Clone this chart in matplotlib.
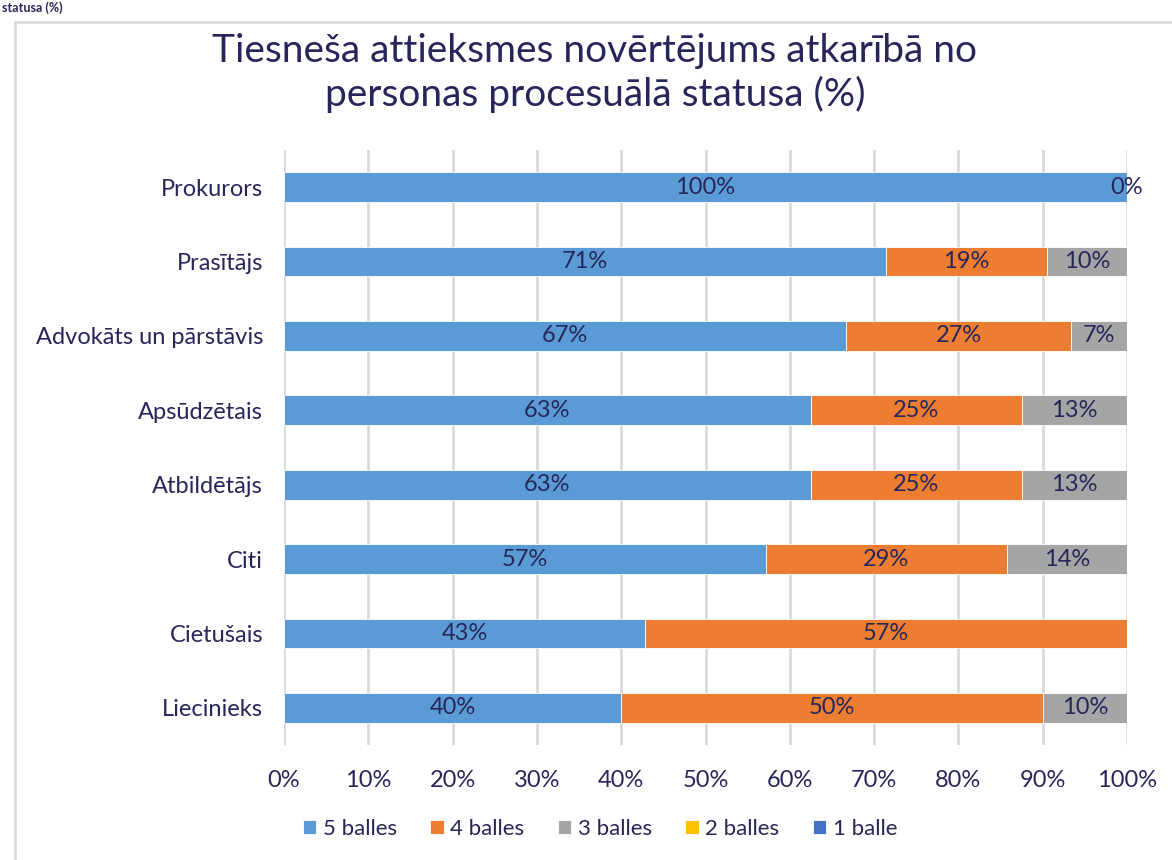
import matplotlib.pyplot as plt
import numpy as np
from matplotlib.patches import Rectangle

categories = ["Prokurors", "Prasītājs", "Advokāts un pārstāvis", "Apsūdzētais",
              "Atbildētājs", "Citi", "Cietušais", "Liecinieks"]
series = ["5 balles", "4 balles", "3 balles", "2 balles", "1 balle"]
balles_5 = [100.0, 71.43, 66.67, 62.5, 62.5, 57.14, 42.86, 40.0]
balles_4 = [0.0, 19.05, 26.67, 25.0, 25.0, 28.57, 57.14, 50.0]
balles_3 = [np.nan, 9.52, 6.67, 12.5, 12.5, 14.29, np.nan, 10.0]
balles_2 = [np.nan] * 8
balles_1 = [np.nan] * 8
colors = ["#5B9BD5", "#ED7D31", "#A5A5A5", "#FFC000", "#4472C4"]
xticks = [0, 10, 20, 30, 40, 50, 60, 70, 80, 90, 100]

text_color = "#27265A"
plt.rcParams["font.family"] = ["Lato", "DejaVu Sans"]

fig = plt.figure(figsize=(11.72, 8.6), dpi=100)
fig.patches.append(Rectangle((15 / 1172, -0.05), 1.1, 1 - 22 / 860 + 0.05,
                             transform=fig.transFigure, fill=False,
                             edgecolor="#D9D9D9", linewidth=2))
fig.text(0.002, 0.999, "statusa (%)", fontsize=9, color=text_color,
         ha="left", va="top", fontweight="bold")

ax = fig.add_axes([284 / 1172, 1 - 745 / 860, (1127 - 284) / 1172, (745 - 150) / 860])

y = np.arange(len(categories))
left = np.zeros(len(categories))
for name, vals, col in zip(series, [balles_5, balles_4, balles_3, balles_2, balles_1], colors):
    vals = np.array(vals, dtype=float)
    w = np.nan_to_num(vals)
    ax.barh(y, w, left=left, height=0.4, color=col, label=name,
            edgecolor="white", linewidth=0.6, zorder=2)
    for yi, v, l in zip(y, vals, left):
        if not np.isnan(v):
            ax.text(l + v / 2, yi, f"{int(np.floor(v + 0.5))}%", ha="center", va="center",
                    fontsize=17, color=text_color, zorder=3)
    left = left + w

ax.set_xlim(0, 100)
ax.set_ylim(len(categories) - 0.5, -0.5)
ax.set_yticks(y)
ax.set_yticklabels(categories)
ax.set_xticks(xticks)
ax.set_xticklabels([f"{t}%" for t in xticks])
ax.tick_params(length=0, labelsize=17, labelcolor=text_color)
ax.tick_params(axis="y", pad=15)
ax.tick_params(axis="x", pad=18)
ax.grid(axis="x", color="#D9D9D9", linewidth=2, zorder=0)
ax.set_axisbelow(True)
for s in ax.spines.values():
    s.set_visible(False)

fig.text(595 / 1172, 1 - 73 / 860, "Tiesneša attieksmes novērtējums atkarībā no\npersonas procesuālā statusa (%)",
         ha="center", va="center", fontsize=28, color=text_color,
         linespacing=1.25)

leg = fig.legend(loc="center", bbox_to_anchor=(600 / 1172, 1 - 829 / 860), ncol=5,
                 frameon=False, fontsize=16, handlelength=0.6, handleheight=0.6,
                 handletextpad=0.3, columnspacing=1.5, labelcolor=text_color)

fig.savefig("out.png", dpi=100)
